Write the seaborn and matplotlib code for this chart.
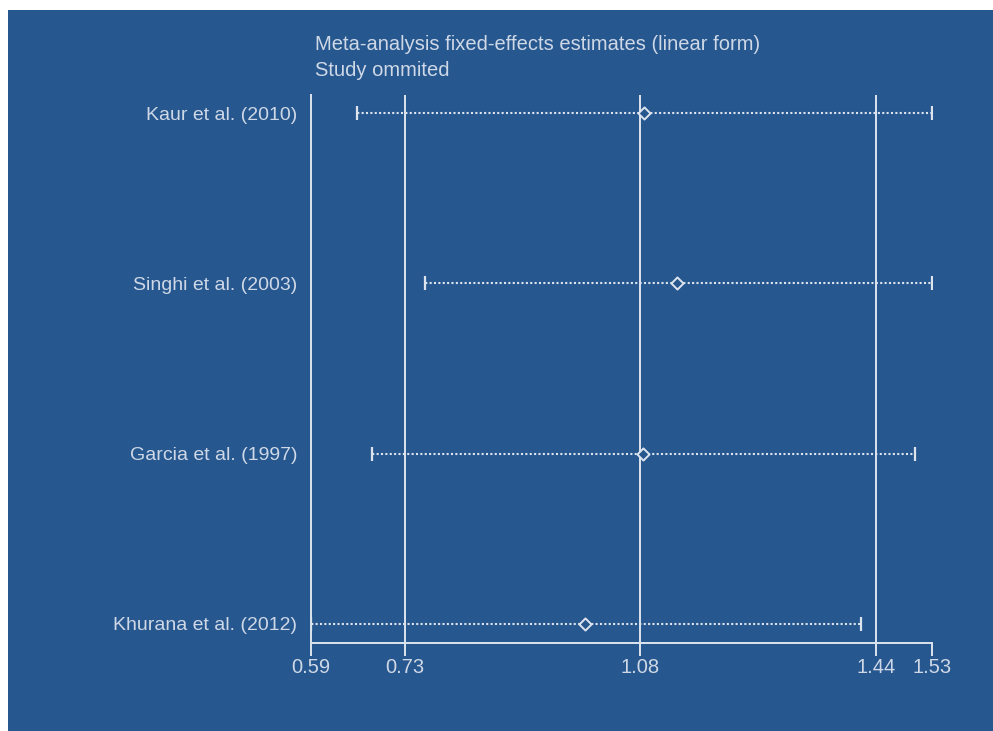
import matplotlib
matplotlib.use("Agg")
import matplotlib.pyplot as plt
import matplotlib.patches as mpatches
import seaborn as sns
import pandas as pd

# ---- data ----
studies = ["Kaur et al. (2010)", "Singhi et al. (2003)", "Garcia et al. (1997)", "Khurana et al. (2012)"]
estimate = [1.090, 1.140, 1.089, 1.001]
lower_ci = [0.656, 0.759, 0.678, 0.586]
upper_ci = [1.527, 1.527, 1.501, 1.419]
overall_lower = 0.728
overall_est = 1.084
overall_upper = 1.442
title_lines = ["Meta-analysis fixed-effects estimates (linear form)", "Study ommited"]

BG = "#26578f"
FG = "#dde4ee"
TXT = "#cfd8e6"
FS = 14.5

sns.set_theme(style="white")
plt.rcParams["font.family"] = ["Liberation Sans", "DejaVu Sans"]

W, H = 993, 731
fig = plt.figure(figsize=(W / 100, H / 100), dpi=100, facecolor="white")
fig.patches.append(mpatches.Rectangle((8 / W, 0), 1 - 8 / W, (H - 10) / H,
                                      transform=fig.transFigure, facecolor=BG,
                                      edgecolor="none", zorder=-10))

ax = fig.add_axes([311 / W, (H - 643) / H, (932 - 311) / W, (643 - 95) / H])
ax.set_facecolor("none")
ax.set_zorder(5)

n = len(studies)
ypos = [n - 1 - i for i in range(n)]
df = pd.DataFrame({"study": studies, "est": estimate, "lo": lower_ci, "hi": upper_ci, "y": ypos})

# reference lines
for v in (overall_lower, overall_est, overall_upper):
    ax.axvline(v, color=FG, lw=1.4, zorder=1)

# CI dotted lines
ax.hlines(df["y"], df["lo"], df["hi"], color=FG, lw=1.5, linestyles=[(2, (1, 1.1))], zorder=2)
# caps
ax.plot(df["lo"], df["y"], ls="none", marker="|", ms=10, mew=1.6, color=FG, zorder=3)
ax.plot(df["hi"], df["y"], ls="none", marker="|", ms=10, mew=1.6, color=FG, zorder=3)
# estimates
sns.scatterplot(data=df, x="est", y="y", marker="D", s=38, facecolor=BG,
                edgecolor=FG, linewidth=1.4, ax=ax, zorder=4, legend=False)

ax.set_xlim(min(lower_ci), max(upper_ci))
ax.set_ylim(-0.112, n - 1 + 0.106)
ax.set_yticks(ypos)
ax.set_yticklabels(studies)
xt = [min(lower_ci), overall_lower, overall_est, overall_upper, max(upper_ci)]
ax.set_xticks(xt)
ax.set_xticklabels([f"{v:.2f}" for v in xt])
ax.set_xlabel("")
ax.set_ylabel("")

for s in ("top", "right"):
    ax.spines[s].set_visible(False)
for s in ("left", "bottom"):
    ax.spines[s].set_color(FG)
    ax.spines[s].set_linewidth(1.4)
ax.tick_params(axis="x", direction="out", length=9, width=1.4, color=FG,
               labelcolor=TXT, labelsize=FS, pad=2, bottom=True)
ax.tick_params(axis="y", length=0, labelcolor=TXT, labelsize=14, pad=10)

fig.text(315 / W, 1 - 44 / H, title_lines[0], color=TXT, fontsize=FS, va="center", ha="left")
fig.text(315 / W, 1 - 70 / H, title_lines[1], color=TXT, fontsize=FS, va="center", ha="left")

fig.savefig("out.png", dpi=100, facecolor="white")
